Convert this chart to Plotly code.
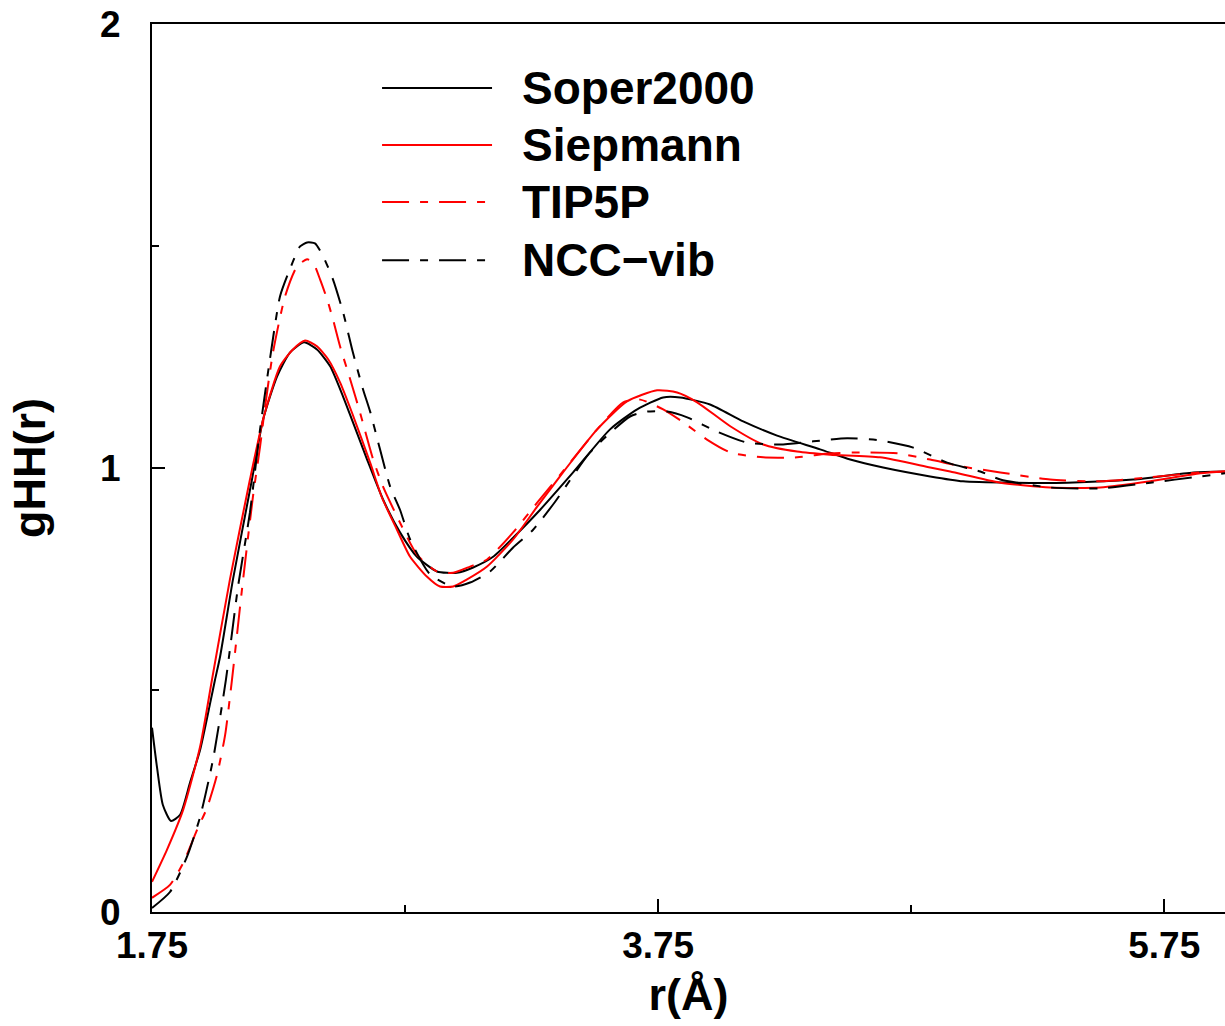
import plotly.graph_objects as go

# Soper2000 (experiment)
r_soper = [1.750, 1.770, 1.793, 1.825, 1.861, 1.900, 1.940, 1.980, 1.999, 2.019, 2.070,
           2.145, 2.189, 2.244, 2.295, 2.351, 2.402, 2.454, 2.505, 2.540, 2.600, 2.663,
           2.730, 2.797, 2.876, 2.955, 3.019, 3.098, 3.177, 3.284, 3.414, 3.560, 3.667,
           3.770, 3.837, 3.955, 4.086, 4.220, 4.390, 4.509, 4.639, 4.825, 4.955, 5.141,
           5.367, 5.627, 5.865, 5.991]
g_soper = [0.415, 0.325, 0.241, 0.205, 0.219, 0.291, 0.365, 0.471, 0.523, 0.575, 0.749,
           0.974, 1.109, 1.206, 1.260, 1.283, 1.267, 1.229, 1.161, 1.109, 1.019, 0.929,
           0.855, 0.800, 0.767, 0.764, 0.776, 0.800, 0.843, 0.906, 0.990, 1.087, 1.132,
           1.159, 1.159, 1.143, 1.105, 1.073, 1.042, 1.019, 1.001, 0.981, 0.970, 0.967,
           0.967, 0.974, 0.990, 0.992]

# Siepmann
r_siep = [1.750, 1.809, 1.873, 1.940, 1.987, 2.058, 2.137, 2.193, 2.256, 2.307, 2.355,
          2.402, 2.446, 2.493, 2.540, 2.612, 2.659, 2.718, 2.770, 2.837, 2.888, 2.940,
          2.995, 3.074, 3.177, 3.272, 3.374, 3.509, 3.627, 3.746, 3.825, 3.904, 4.035,
          4.165, 4.299, 4.430, 4.627, 4.825, 4.904, 5.102, 5.299, 5.497, 5.695, 5.892,
          5.991]
g_siep = [0.068, 0.140, 0.230, 0.372, 0.523, 0.749, 0.974, 1.118, 1.229, 1.267, 1.287,
          1.274, 1.245, 1.193, 1.125, 1.012, 0.933, 0.861, 0.800, 0.755, 0.733, 0.733,
          0.749, 0.778, 0.839, 0.913, 0.990, 1.087, 1.150, 1.175, 1.170, 1.148, 1.094,
          1.053, 1.037, 1.030, 1.024, 1.001, 0.992, 0.967, 0.956, 0.956, 0.970, 0.988,
          0.992]

# TIP5P
r_tip5p = [1.750, 1.821, 1.873, 1.928, 1.967, 2.007, 2.039, 2.066, 2.110, 2.149, 2.177,
           2.197, 2.228, 2.276, 2.323, 2.363, 2.386, 2.414, 2.442, 2.465, 2.493, 2.533,
           2.572, 2.624, 2.663, 2.718, 2.797, 2.876, 2.940, 3.007, 3.074, 3.177, 3.272,
           3.402, 3.509, 3.612, 3.679, 3.770, 3.849, 3.943, 4.035, 4.165, 4.299, 4.430,
           4.560, 4.695, 4.825, 4.955, 5.102, 5.299, 5.497, 5.695, 5.892, 5.991]
g_tip5p = [0.032, 0.061, 0.110, 0.185, 0.234, 0.309, 0.399, 0.523, 0.749, 0.936, 1.048,
           1.139, 1.260, 1.387, 1.454, 1.470, 1.463, 1.425, 1.380, 1.335, 1.274, 1.200,
           1.125, 1.019, 0.958, 0.891, 0.805, 0.767, 0.764, 0.778, 0.794, 0.855, 0.922,
           1.012, 1.087, 1.148, 1.154, 1.132, 1.103, 1.064, 1.035, 1.024, 1.024, 1.033,
           1.035, 1.033, 1.019, 1.003, 0.990, 0.974, 0.970, 0.979, 0.990, 0.992]

# NCC-vib
r_ncc = [1.750, 1.821, 1.888, 1.940, 1.991, 2.042, 2.090, 2.137, 2.177, 2.216, 2.256,
         2.295, 2.335, 2.363, 2.394, 2.426, 2.465, 2.505, 2.544, 2.584, 2.612, 2.651,
         2.691, 2.730, 2.770, 2.849, 2.940, 3.007, 3.086, 3.177, 3.256, 3.343, 3.481,
         3.639, 3.707, 3.786, 3.865, 3.983, 4.102, 4.232, 4.363, 4.497, 4.628, 4.758,
         4.892, 5.023, 5.102, 5.299, 5.497, 5.695, 5.892, 5.991]
g_ncc = [0.009, 0.045, 0.124, 0.214, 0.343, 0.523, 0.733, 0.900, 1.087, 1.245, 1.387,
         1.448, 1.499, 1.508, 1.506, 1.477, 1.425, 1.351, 1.260, 1.177, 1.127, 1.042,
         0.958, 0.906, 0.839, 0.760, 0.733, 0.742, 0.767, 0.821, 0.861, 0.924, 1.035,
         1.116, 1.127, 1.127, 1.114, 1.082, 1.057, 1.053, 1.060, 1.067, 1.062, 1.046,
         1.012, 0.992, 0.974, 0.956, 0.954, 0.967, 0.981, 0.988]

names = ["Soper2000", "Siepmann", "TIP5P", "NCC\u2212vib"]
dashdot = "27px,11px,8px,11px"

FONT = "Liberation Sans, Arial, sans-serif"

series = [
    (r_soper, g_soper, "black", "solid"),
    (r_siep, g_siep, "red", "solid"),
    (r_tip5p, g_tip5p, "red", dashdot),
    (r_ncc, g_ncc, "black", dashdot),
]

fig = go.Figure()
for (xs, ys, col, dash), nm in zip(series, names):
    fig.add_trace(go.Scatter(x=xs, y=ys, mode="lines", name=nm, showlegend=False,
                             line=dict(color=col, width=2, dash=dash,
                                       shape="spline", smoothing=0.6)))

# legend drawn by hand so the line samples are long like the original
leg_y = [0.928, 0.8637, 0.7995, 0.734]
for (xs, ys, col, dash), nm, yy in zip(series, names, leg_y):
    fig.add_shape(type="line", xref="paper", yref="paper", x0=0.2144, x1=0.3169,
                  y0=yy, y1=yy, line=dict(color=col, width=2, dash=dash))
    fig.add_annotation(xref="paper", yref="paper", x=0.343, y=yy, text=nm,
                       showarrow=False, xanchor="left", yanchor="middle",
                       font=dict(family=FONT, size=46, color="black", weight="bold"))

fig.update_layout(
    width=1225, height=1026,
    margin=dict(l=152, r=0, t=24, b=114),
    paper_bgcolor="white", plot_bgcolor="white",
    font=dict(family=FONT, color="black", weight="bold"),
    showlegend=False,
)
fig.update_xaxes(
    range=[1.75, 5.99], tick0=1.75, dtick=2, tickformat=".2f",
    ticks="inside", ticklen=13, tickwidth=2, tickcolor="black",
    minor=dict(ticks="inside", ticklen=7, tickwidth=2, tickcolor="black",
               tick0=1.75, dtick=1),
    showline=True, linecolor="black", linewidth=2, mirror=True,
    showgrid=False, zeroline=False,
    tickfont=dict(family=FONT, size=37, weight="bold"),
    ticklabelstandoff=0, ticklabeloverflow="allow",
    title=dict(text="r(Å)", font=dict(family=FONT, size=45, weight="bold"), standoff=13),
)
fig.update_yaxes(
    range=[0, 2], tick0=0, dtick=1,
    ticks="inside", ticklen=13, tickwidth=2, tickcolor="black",
    minor=dict(ticks="inside", ticklen=7, tickwidth=2, tickcolor="black",
               tick0=0, dtick=0.5),
    showline=True, linecolor="black", linewidth=2, mirror=False,
    showgrid=False, zeroline=False,
    tickfont=dict(family=FONT, size=37, weight="bold"),
    ticklabelstandoff=22, ticklabeloverflow="allow",
    title=dict(text="gHH(r)", font=dict(family=FONT, size=45, weight="bold"), standoff=40),
)

# drop the default 8px page margin so the figure fills the window
fig.write_html("out.html", config={"displayModeBar": False},
               post_script="document.body.style.margin='0';document.body.style.overflow='hidden';")
